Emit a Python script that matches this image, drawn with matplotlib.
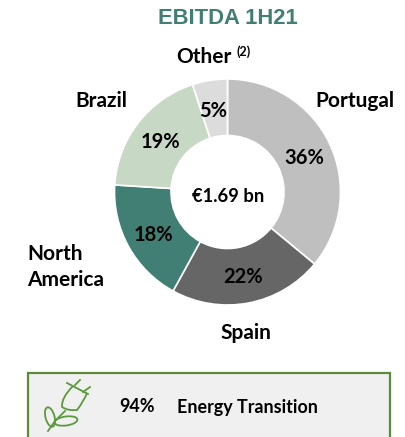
import matplotlib
matplotlib.use("Agg")
import matplotlib.pyplot as plt
from matplotlib.patches import Rectangle, Ellipse, PathPatch
from matplotlib.path import Path

# Values
regions = ["Portugal", "Spain", "North\nAmerica", "Brazil", "Other"]
shares = [36, 22, 18, 19, 5]
colors = ["#BFBFBF", "#666666", "#417F74", "#C7D9C5", "#DCDCDC"]
share_labels = ["36%", "22%", "18%", "19%", "5%"]

W, H = 405, 437
cx, cy, r = 227.5, 192, 113

plt.rcParams['font.family'] = ['Lato', 'DejaVu Sans']
plt.rcParams['font.weight'] = 'bold'

fig = plt.figure(figsize=(W / 100, H / 100), dpi=100)

# pie axes, placed in pixels
pie_ax = fig.add_axes([(cx - r) / W, (H - cy - r) / H, 2 * r / W, 2 * r / H])
wedges, _ = pie_ax.pie(shares, colors=colors, startangle=90, counterclock=False, radius=1,
                       wedgeprops=dict(width=0.5, edgecolor="white", linewidth=1.2))
pie_ax.set_xlim(-1, 1)
pie_ax.set_ylim(-1, 1)

# overlay in pixel coords for text and the box below
ax = fig.add_axes([0, 0, 1, 1], zorder=3)
ax.set_xlim(0, W)
ax.set_ylim(H, 0)
ax.axis("off")

ax.text(228, 19, "EBITDA 1H21", color="#417F74", fontsize=15.8, family="Liberation Sans",
        fontweight="bold", ha="center", va="center")

ax.text(204, 57, regions[4], fontsize=15, ha="center", va="center")
ax.text(244, 52, "(2)", fontsize=9, ha="center", va="center")
ax.text(101, 101, regions[3], fontsize=15, ha="center", va="center")
ax.text(355, 101, regions[0], fontsize=15, ha="center", va="center")
ax.text(27, 267, regions[2], fontsize=15, ha="left", va="center", linespacing=1.32)
ax.text(246, 333, regions[1], fontsize=15, ha="center", va="center")

label_pos = [(304, 158), (243, 277), (153, 235), (160, 142), (213, 111)]
for txt, (x, y) in zip(share_labels, label_pos):
    ax.text(x, y, txt, fontsize=14.5, ha="center", va="center", color="black")
ax.text(228, 196, "€1.69 bn", fontsize=13.2, ha="center", va="center")

# box at the bottom, cut off by the image edge
ax.add_patch(Rectangle((28, 373), 362, 70, facecolor="#F0F0F0", edgecolor="#5B8C3A", linewidth=1.6))
ax.text(137.5, 406, "94%", fontsize=13, ha="center", va="center")
ax.text(177, 407, "Energy Transition", fontsize=12.9, ha="left", va="center")

# plug icon
green = "#5B9A3C"
ax.add_patch(PathPatch(Path([(73, 386), (61, 398), (62, 407), (68, 411), (77, 410), (84, 401), (87, 393)],
                            [1, 3, 3, 3, 3, 3, 3]),
                       fill=False, edgecolor=green, linewidth=1.3))
ax.plot([67, 88], [383, 394], color=green, lw=1.3)
ax.plot([75, 80], [385, 380], color=green, lw=1.3)
ax.plot([83, 90], [392, 387], color=green, lw=1.3)
ax.plot([65, 55, 48], [411, 421, 431], color=green, lw=1.3)
ax.add_patch(Ellipse((50, 417), 9, 20, angle=-15, facecolor="none", edgecolor=green, lw=1.3))
ax.add_patch(Ellipse((66, 421), 23, 9, angle=-8, facecolor="none", edgecolor=green, lw=1.3))

fig.savefig("out.png", dpi=100)
